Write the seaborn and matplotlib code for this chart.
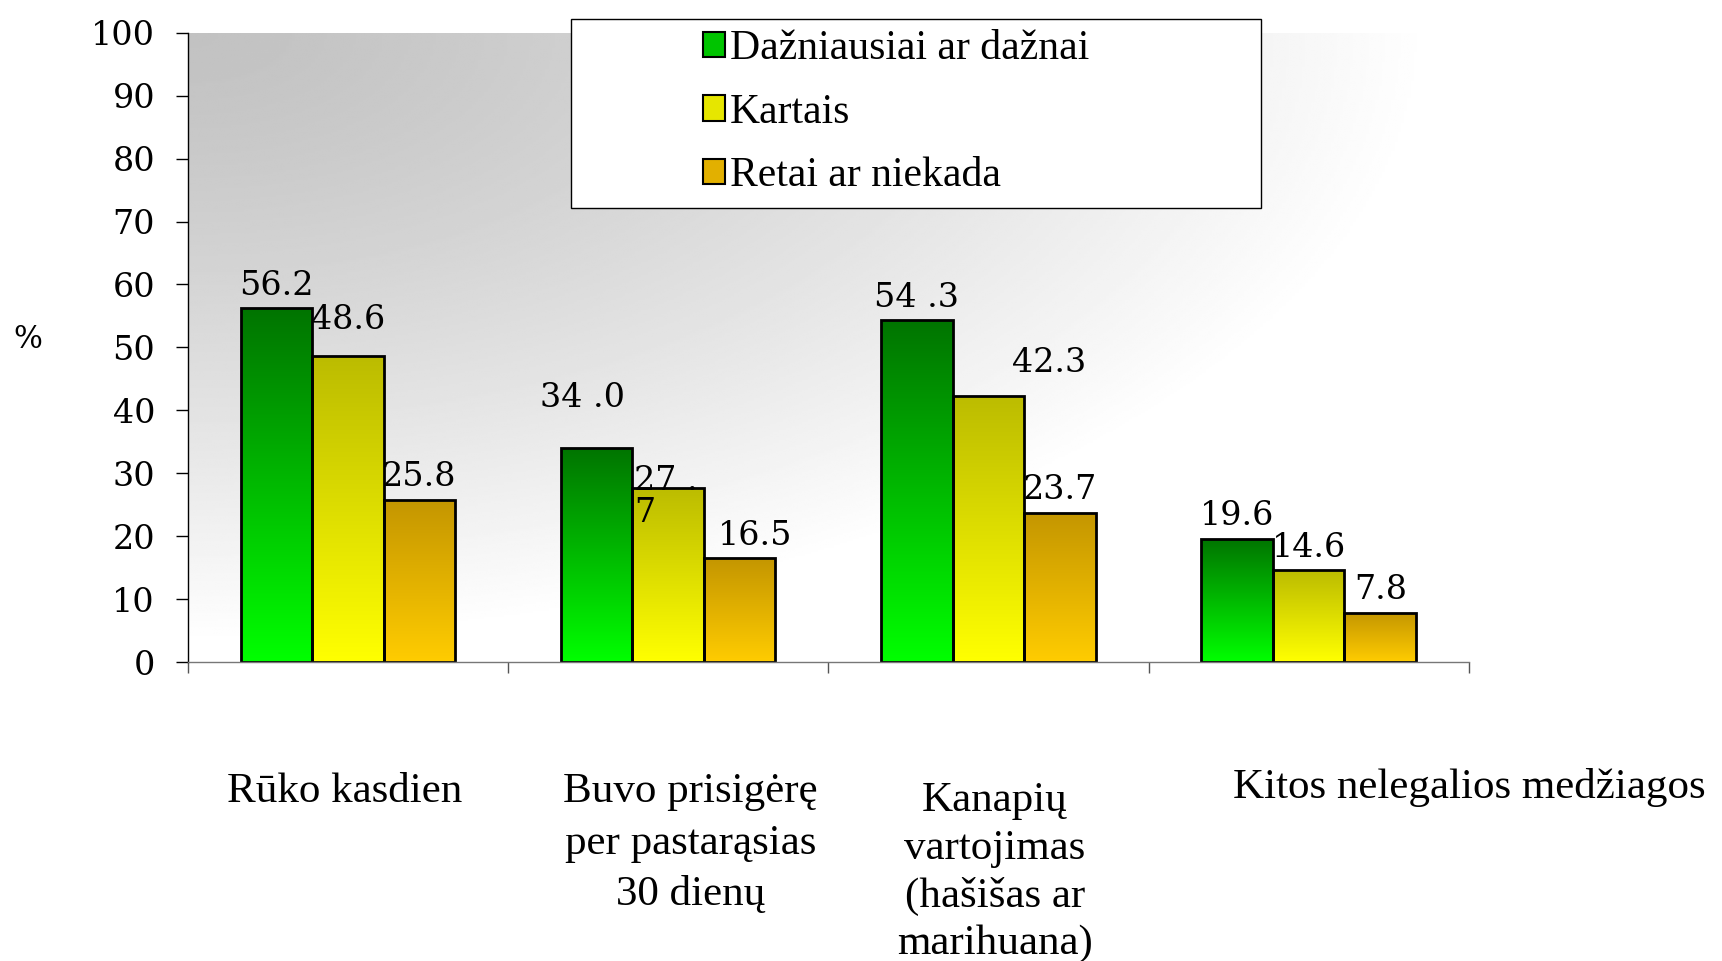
import numpy as np
import pandas as pd
import matplotlib
matplotlib.use("Agg")
from matplotlib import pyplot as plt
from matplotlib.patches import Patch, Rectangle
from matplotlib.colors import LinearSegmentedColormap
import matplotlib.transforms as mtransforms
import seaborn as sns

# duomenys
categories = ["Rūko kasdien",
              "Buvo prisigėrę\nper pastarąsias\n30 dienų",
              "Kanapių\nvartojimas\n(hašišas ar\nmarihuana)",
              "Kitos nelegalios medžiagos"]
series = ["Dažniausiai ar dažnai", "Kartais", "Retai ar niekada"]
often = [56.2, 34.0, 54.3, 19.6]
sometimes = [48.6, 27.7, 42.3, 14.6]
rarely = [25.8, 16.5, 23.7, 7.8]
labels_often = ["56.2", "34 .0", "54 .3", "19.6"]
labels_sometimes = ["48.6", "27 .\n7", "42.3", "14.6"]
labels_rarely = ["25.8", "16.5", "23.7", "7.8"]
y_ticks = [0, 10, 20, 30, 40, 50, 60, 70, 80, 90, 100]

# spalvos: (virsus, apacia)
grad_colors = [("#007400", "#00ff00"), ("#bcbc00", "#ffff00"), ("#c49600", "#ffcc00")]
legend_colors = ["#00c400", "#e6e600", "#e2b000"]

# etikeciu poslinkiai (serija, kategorija) -> (dx kategorijos vienetais, dy procentais)
nudge = {(0, 1): (-0.045, 7.9), (1, 0): (0, 5.7), (2, 1): (0.05, 3.6), (1, 2): (0.19, 5.3)}
cat_dx = [-0.01, 0.07, 0.02, 0.5]
cat_y = [-0.175, -0.175, -0.19, -0.168]
cat_ls = [1.3, 1.45, 1.3, 1.3]

sns.set_theme(style="white")
plt.rcParams['font.family'] = ['Liberation Serif', 'DejaVu Serif']
plt.rcParams['text.color'] = 'black'
plt.rcParams['ytick.color'] = 'black'

df = pd.DataFrame({
    "kategorija": categories * 3,
    "grupe": [series[0]] * 4 + [series[1]] * 4 + [series[2]] * 4,
    "reiksme": often + sometimes + rarely,
})

fig = plt.figure(figsize=(17.22, 9.61), dpi=100)
ax = fig.add_axes([0.109, 0.311, 0.744, 0.655])

# fono gradientas (eilute 0 = virsus)
u = np.linspace(0, 1, 400)
v = np.linspace(0, 1, 300)
U, V = np.meshgrid(u, v)
d = np.clip(np.sqrt((U / 0.97) ** 2 + (V / 0.97) ** 2), 0, 1)
bg = 0.76 + 0.24 * d ** 1.3
ax.imshow(bg, extent=(0, 1, 0, 1), origin="upper", transform=ax.transAxes, cmap="gray",
          vmin=0, vmax=1, aspect="auto", zorder=-10, interpolation="bilinear")

sns.barplot(data=df, x="kategorija", y="reiksme", hue="grupe", width=0.67,
            palette=legend_colors, edgecolor="black", linewidth=2, legend=False,
            ax=ax)

all_labels = [labels_often, labels_sometimes, labels_rarely]
for si, cont in enumerate(ax.containers):
    cmap = LinearSegmentedColormap.from_list("g%d" % si, [grad_colors[si][1], grad_colors[si][0]])
    for ci, bar in enumerate(cont.patches):
        x0, w, h = bar.get_x(), bar.get_width(), bar.get_height()
        grad = np.linspace(0, 1, 200).reshape(-1, 1)
        im = ax.imshow(grad, extent=(x0, x0 + w, 0, h), origin="lower", cmap=cmap,
                       aspect="auto", zorder=0.9, interpolation="bilinear")
        im.set_clip_path(bar)
        bar.set_facecolor("none")
        bar.set_zorder(1)
        txt = all_labels[si][ci]
        if "\n" in txt:
            ax.text(x0 + 0.005, h + 3.6, txt, ha="left", va="top", fontsize=24,
                    family="DejaVu Serif", linespacing=1.0, zorder=3)
        else:
            dx, dy = nudge.get((si, ci), (0, 3.6))
            ax.text(x0 + w / 2 + dx, h + dy, txt, ha="center", va="center",
                    fontsize=24, family="DejaVu Serif", zorder=3)

ax.set_xlim(-0.5, 3.5)
ax.set_ylim(0, 100)
ax.set_yticks(y_ticks)
ax.set_yticklabels([str(t) for t in y_ticks], family="DejaVu Serif", fontsize=24)
ax.tick_params(axis="y", left=True, length=8.5, width=1, color="black", pad=15, direction="out")
ax.set_xticks([-0.5, 0.5, 1.5, 2.5, 3.5], minor=True)
ax.tick_params(axis="x", which="major", length=0, labelbottom=False)
ax.tick_params(axis="x", which="minor", bottom=True, length=8, width=1, color="#555555", direction="out")
ax.set_xlabel("")
ax.set_ylabel("")
for s in ["top", "right"]:
    ax.spines[s].set_visible(False)
ax.spines["left"].set_color("black")
ax.spines["left"].set_linewidth(1)
ax.spines["bottom"].set_color("#777777")
ax.spines["bottom"].set_linewidth(1)

trans = mtransforms.blended_transform_factory(ax.transData, ax.transAxes)
for i, cat in enumerate(categories):
    ax.text(i + cat_dx[i], cat_y[i], cat, transform=trans, ha="center", va="top",
            fontsize=31, linespacing=cat_ls[i], clip_on=False)

fig.text(27.5 / 1722, 1 - 340 / 961, "%", fontsize=22, ha="center", va="center",
         family="DejaVu Serif")

# legenda
frame = Rectangle((571 / 1722, 1 - 208 / 961), 690 / 1722, 189 / 961,
                  transform=fig.transFigure, facecolor="white", edgecolor="black",
                  linewidth=1, zorder=2)
fig.add_artist(frame)
handles = [Patch(facecolor=c, edgecolor="black", linewidth=1.5) for c in legend_colors]
leg = fig.legend(handles, series, loc="upper left", bbox_to_anchor=(0.408, 0.969),
                 frameon=False, fontsize=30, handlelength=0.55, handleheight=0.55,
                 handletextpad=0.1, labelspacing=0.6, borderpad=0, borderaxespad=0)
leg.set_zorder(3)

fig.savefig("out.png", dpi=100)
